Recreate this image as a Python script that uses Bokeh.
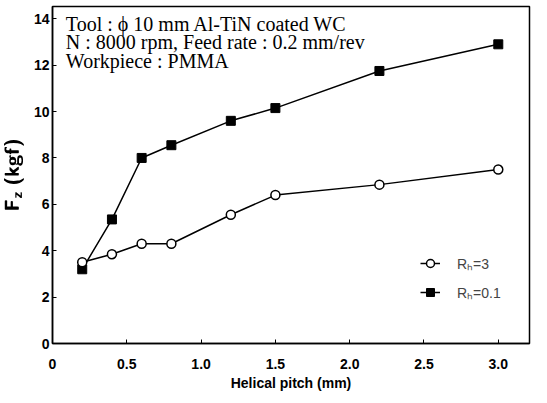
from bokeh.plotting import figure
from bokeh.models import FixedTicker, Legend, LegendItem, Label
from bokeh.embed import file_html
from bokeh.resources import INLINE

pitch = [0.2, 0.4, 0.6, 0.8, 1.2, 1.5, 2.2, 3.0]
fz_rh3 = [3.5, 3.85, 4.3, 4.3, 5.55, 6.4, 6.85, 7.5]
fz_rh01 = [3.2, 5.35, 8.0, 8.55, 9.6, 10.15, 11.75, 12.9]
x_ticks = [0, 0.5, 1.0, 1.5, 2.0, 2.5, 3.0]
x_tick_labels = ["0", "0.5", "1.0", "1.5", "2.0", "2.5", "3.0"]
y_ticks = [0, 2, 4, 6, 8, 10, 12, 14]
notes = ["Tool : \u03d5 10 mm Al-TiN coated WC",
         "N : 8000 rpm, Feed rate : 0.2 mm/rev",
         "Workpiece : PMMA"]
series_labels = ["R\u2095=3", "R\u2095=0.1"]

p = figure(width=531, height=395, output_backend="svg", toolbar_location=None,
           x_range=(0, 3.21), y_range=(0, 14.53),
           min_border_left=49, min_border_right=2, min_border_top=6, min_border_bottom=52)
p.background_fill_color = "white"
p.border_fill_color = "white"
p.outline_line_color = "black"
p.outline_line_width = 1.5
p.grid.visible = False

tick_font = "Liberation Sans"
p.xaxis.ticker = FixedTicker(ticks=x_ticks)
p.xaxis.major_label_overrides = {t: l for t, l in zip(x_ticks, x_tick_labels)}
p.yaxis.ticker = FixedTicker(ticks=y_ticks)
for ax in (p.xaxis, p.yaxis):
    ax.axis_line_width = 1.5
    ax.axis_line_color = "black"
    ax.major_tick_in = 4
    ax.major_tick_out = 0
    ax.minor_tick_line_color = None
    ax.major_label_text_font = tick_font
    ax.major_label_text_font_style = "bold"
    ax.major_label_text_font_size = "14px"
    ax.major_label_text_color = "black"
    ax.axis_label_text_font = tick_font
    ax.axis_label_text_font_style = "bold"
    ax.axis_label_text_font_size = "14px"
    ax.axis_label_text_color = "black"

p.xaxis.major_label_standoff = 15
p.xaxis.axis_label = "Helical pitch (mm)"
p.xaxis.axis_label_standoff = 3
p.yaxis.major_label_standoff = 3
p.yaxis.axis_label = r"$$\mathbfsf{F_z\ (kgf)}$$"
p.yaxis.axis_label_text_font_size = "17px"
p.yaxis.axis_label_standoff = 7

l2 = p.line(pitch, fz_rh01, line_color="black", line_width=1.5)
m2 = p.scatter(pitch, fz_rh01, marker="square", size=9, fill_color="black", line_color="black")
l1 = p.line(pitch, fz_rh3, line_color="black", line_width=1.5)
m1 = p.scatter(pitch, fz_rh3, marker="circle", size=9, fill_color="white",
               line_color="black", line_width=1.5)

legend = Legend(items=[LegendItem(label=series_labels[0], renderers=[l1, m1]),
                       LegendItem(label=series_labels[1], renderers=[l2, m2])],
                location=(368, 41), padding=0, margin=0, spacing=9,
                glyph_width=20, glyph_height=20, label_standoff=17,
                label_text_font=tick_font, label_text_font_size="14px",
                border_line_color=None, background_fill_alpha=0)
p.add_layout(legend)

for i, t in enumerate(notes):
    p.add_layout(Label(x=0.09, y=(343 - 23 - 18.5 * i) / 23.2, text=t, text_font="Liberation Serif",
                       text_font_size="20px", text_font_style="normal",
                       text_baseline="middle", text_color="black"))

open("out.html", "w").write(file_html(p, INLINE))
